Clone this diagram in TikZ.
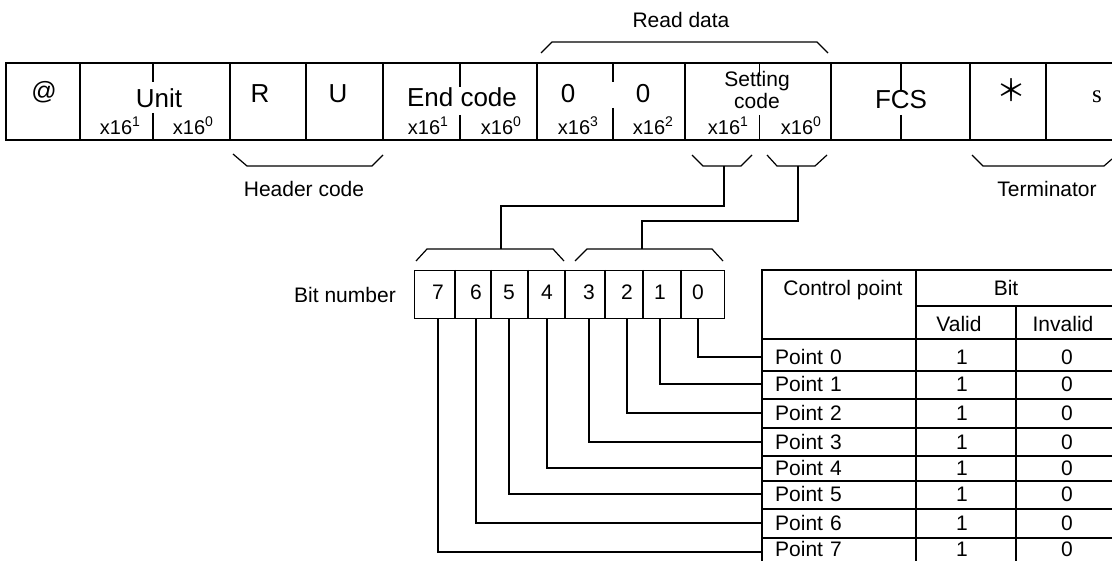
\documentclass[tikz,border=0pt]{standalone}
\usepackage{fontspec}
\setmainfont{Liberation Sans}
\newfontfamily\cjkfont{Noto Sans CJK JP}
\newfontfamily\timesfont{Liberation Serif}
\newcommand\fs[1]{\fontsize{#1}{#1}\selectfont}
\newcommand\hx[1]{x16\raisebox{0.42em}{\fs{14}#1}}
\begin{document}
\begin{tikzpicture}[x=1pt,y=-1pt,
  frame/.style={line width=2pt},
  thinframe/.style={line width=1pt},
  br/.style={line width=1.2pt},
  conn/.style={line width=1.2pt},
  tline/.style={line width=1.3pt},
  bitline/.style={line width=1.1pt},
  big/.style={inner sep=0, anchor=base, font=\fs{26}},
  lab/.style={inner sep=0, anchor=base, font=\fs{21}},
  sub/.style={inner sep=0, anchor=base, font=\fs{20}},
  pointcell/.style={anchor=west, text width=128pt, inner xsep=13pt, inner ysep=0pt, align=left, font=\fs{21}},
  cellnum/.style={inner sep=0, anchor=center, font=\fs{21}}]
\useasboundingbox (0,0) rectangle (1112,561);

% ---- message frame ----
\draw[frame] (1112,63) -- (6,63) -- (6,140) -- (1112,140);
\foreach \x in {80,230,306,383,537,685,831,970,1046}
  \draw[frame] (\x,63) -- (\x,140);
\draw[frame] (153,63) -- (153,82) (153,113) -- (153,140);
\draw[frame] (460,63) -- (460,87) (460,115) -- (460,140);
\draw[frame] (613,63) -- (613,82) (613,108) -- (613,140);
\draw[frame] (901,63) -- (901,90) (901,115) -- (901,140);
\draw[thinframe] (759,63) -- (759,75) (759,115) -- (759,140);

\node[big, font=\fs{25}] (at) at (44,100) {@};
\node[big] (unit) at (159,108) {Unit};
\node[sub] (u1) at (120,135) {\hx{1}};
\node[sub] (u0) at (193,135) {\hx{0}};
\node[big] (r) at (260,103) {R};
\node[big] (u) at (338,103) {U};
\node[big] (end) at (462,107) {End code};
\node[sub] (e1) at (428,135) {\hx{1}};
\node[sub] (e0) at (501,135) {\hx{0}};
\node[big] (z3) at (568,103) {0};
\node[big] (z2) at (643,103) {0};
\node[sub] (d3) at (578,135) {\hx{3}};
\node[sub] (d2) at (653,135) {\hx{2}};
\node[lab] (setting) at (757,87) {Setting};
\node[lab] (code) at (757,109) {code};
\node[sub] (s1) at (728,135) {\hx{1}};
\node[sub] (s0) at (801,135) {\hx{0}};
\node[big] (fcs) at (901,109) {FCS};
\node[inner sep=0, anchor=center, font=\cjkfont\fs{30}] (ast) at (1011,90) {＊};
\node[inner sep=0, anchor=base, font=\timesfont\fs{25}] (cr) at (1097,103) {s};

% ---- brackets and labels ----
\draw[br] (541,53) -- (552,42) -- (817,42) -- (828,53);
\node[lab] (readdata) at (681,28) {Read data};
\draw[br] (233,154) -- (247,166) -- (372,166) -- (383,155);
\node[lab] (header) at (304,197) {Header code};
\draw[br] (692,155) -- (703,166) -- (741,166) -- (752,155);
\draw[br] (767,155) -- (777,166) -- (815,166) -- (827,155);
\draw[br] (972,155) -- (983,166) -- (1104,166) -- (1112,159);
\node[lab] (term) at (1047,197) {Terminator};

\coordinate (sc1) at (724,166);
\coordinate (sc0) at (798,166);

% ---- bit number boxes ----
\node[lab] (bitnum) at (345,303) {Bit number};
\node[draw, bitline, minimum width=310pt, minimum height=48pt, inner sep=0, anchor=north west] (bits) at (414,270) {};
\foreach \x in {455,491,528,565,605,643,681}
  \draw[bitline] (\x,270) -- (\x,318);
\foreach \i/\x in {7/438,6/476,5/509,4/547,3/589,2/627,1/660,0/698}
  \node[lab] (b\i) at (\x,300) {\i};

\draw[br] (416,261) -- (427,249) -- (553,249) -- (564,261);
\draw[br] (575,261) -- (587,249) -- (712,249) -- (723,261);
\coordinate (hi) at (501,249);
\coordinate (lo) at (642,249);
\draw[conn] (sc1) -- (724,206) -| (hi);
\draw[conn] (sc0) -- (798,221) -| (lo);

% ---- table ----
\draw[tline] (762,561) -- (762,270) -- (1112,270);
\draw[tline] (916,270) -- (916,561);
\draw[tline] (916,306) -- (1112,306);
\draw[tline] (1016,306) -- (1016,561);
\draw[tline] (762,339) -- (1112,339);
\foreach \y in {371,399,428,456,481,509,538}
  \draw[tline] (762,\y) -- (1112,\y);

\node[lab] (cp) at (843,296) {Control point};
\node[lab] (bit) at (1006,296) {Bit};
\node[lab] (valid) at (959,332) {Valid};
\node[lab] (invalid) at (1063,332) {Invalid};

\foreach \i/\y/\t in {0/357/357,1/384/384,2/413/413,3/442/442,4/468/468,5/494/494,6/523/523,7/552/549} {
  \coordinate (row\i) at (762,\y);
  \node[pointcell] (p\i) at (762,\t) {Point \i};
  \node[cellnum] (v\i) at (962,\t) {1};
  \node[cellnum] (n\i) at (1067,\t) {0};
  \draw[conn] (b\i |- bits.south) |- (row\i);
}
\end{tikzpicture}
\end{document}
